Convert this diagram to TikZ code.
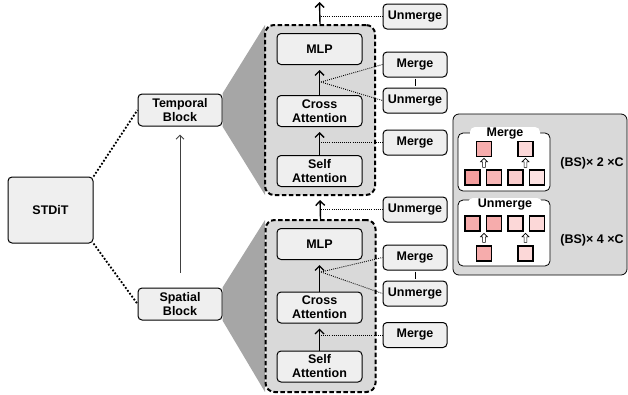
\documentclass[tikz,border=0pt]{standalone}
\usepackage{fontspec}
\setmainfont{Liberation Sans}
\usetikzlibrary{arrows.meta, positioning, shapes.arrows}

\definecolor{blockfill}{HTML}{EFEFEF}
\definecolor{boxfill}{HTML}{D9D9D9}
\definecolor{fangray}{HTML}{A6A6A6}
\definecolor{pinkA}{RGB}{244,158,158}
\definecolor{pinkB}{RGB}{247,182,182}
\definecolor{pinkC}{RGB}{250,205,205}
\definecolor{pinkD}{RGB}{253,226,226}
\definecolor{pinkAB}{RGB}{246,172,172}
\definecolor{pinkCD}{RGB}{252,216,216}

\begin{document}
\begin{tikzpicture}[x=1pt, y=-1pt,
    font=\fontsize{12.5}{14}\selectfont\bfseries,
    block/.style={rectangle, draw, line width=1pt, fill=blockfill, rounded corners=4pt, align=center, minimum width=85pt, minimum height=31pt, inner sep=1pt},
    tokenop/.style={block, minimum width=64pt, minimum height=25pt},
    layerbox/.style={rectangle, draw, line width=2pt, dash pattern=on 4.5pt off 2.5pt, fill=boxfill, rounded corners=9pt, minimum width=110pt, minimum height=170pt},
    flow/.style={-{Straight Barb[length=4.5pt,width=9pt]}, line width=1.4pt},
    tap/.style={line width=0.9pt, dash pattern=on 0.9pt off 1.2pt},
    branch/.style={line width=1.8pt, dash pattern=on 1.8pt off 1.8pt},
    panel/.style={rectangle, draw, line width=0.8pt, rounded corners=5pt},
    tab/.style={fill=white, rounded corners=5pt, minimum height=14pt, inner sep=0pt},
    tok/.style={rectangle, draw, line width=1.4pt, minimum size=15pt, inner sep=0pt},
    uparrow/.style={single arrow, draw, line width=0.6pt, fill=white, shape border rotate=90, minimum height=9pt, minimum width=7pt, single arrow head extend=1.8pt, inner sep=0.8pt}]
    \useasboundingbox (0,0) rectangle (628,394);

    \node [block, minimum width=85pt, minimum height=66pt] (stdit) at (50.5,210) {STDiT};
    \node [block, minimum width=84pt, minimum height=32pt] (temporal) at (180,110) {Temporal\\Block};
    \node [block, minimum width=84pt, minimum height=32pt] (spatial) at (180,304) {Spatial\\Block};

    % zoom fans and layer boxes
    \coordinate (tboxnw) at (265,25);
    \coordinate (tboxsw) at (265,195);
    \coordinate (sboxnw) at (265,220);
    \coordinate (sboxsw) at (265,392);
    \fill [fangray] (temporal.north east) -- (tboxnw) -- (tboxsw) -- (temporal.south east) -- cycle;
    \fill [fangray] (spatial.north east) -- (sboxnw) -- (sboxsw) -- (spatial.south east) -- cycle;
    \node [layerbox] (tbox) at (320,110) {};
    \node [layerbox, minimum height=172pt] (sbox) at (320.5,306) {};

    \node [block] (tmlp) at (319.5,49) {MLP};
    \node [block] (tcross) at (319.5,111) {Cross\\Attention};
    \node [block] (tself) at (319.5,171) {Self\\Attention};
    \node [block] (smlp) at (319.5,244) {MLP};
    \node [block] (scross) at (319.5,307.5) {Cross\\Attention};
    \node [block] (sself) at (319.5,366.5) {Self\\Attention};

    \node [tokenop] (tunm1) at (415,16.5) {Unmerge};
    \node [tokenop] (tmrg1) at (415,64.5) {Merge};
    \node [tokenop] (tunm2) at (415,100.5) {Unmerge};
    \node [tokenop] (tmrg2) at (415,142.5) {Merge};
    \node [tokenop] (sunm1) at (415,209.5) {Unmerge};
    \node [tokenop] (smrg1) at (415,257.5) {Merge};
    \node [tokenop] (sunm2) at (415,293.5) {Unmerge};
    \node [tokenop] (smrg2) at (415,335) {Merge};

    \coordinate (ttop) at (319.5,2);
    \coordinate (tj1) at (321,16.5);
    \coordinate (tj2) at (321,82);
    \coordinate (tj3) at (321,142.5);
    \coordinate (sj1) at (321,209.5);
    \coordinate (sj2) at (321,272);
    \coordinate (sj3) at (321,335);

    \draw [branch] (stdit.north east) -- (temporal.west);
    \draw [branch] (stdit.south east) -- (spatial.west);
    \draw [-{Straight Barb[length=4pt,width=8pt]}, line width=1pt, black!75, shorten <=15pt, shorten >=8pt] (spatial) -- (temporal);

    \draw [flow, shorten >=5pt] (tself) -- (tcross);
    \draw [flow, shorten >=5pt] (tcross) -- (tmlp);
    \draw [flow] (tbox.north) -- (ttop);
    \draw [flow, shorten >=4pt] (sbox.north) -- (tbox.south);
    \draw [flow, shorten >=5pt] (sself) -- (scross);
    \draw [flow, shorten >=5pt] (scross) -- (smlp);

    \draw [tap] (tj1) -- (tunm1.west);
    \draw [tap] (tj2) -- (tmrg1.west);
    \draw [tap] (tj2) -- (tunm2.west);
    \draw [tap] (tj3) -- (tmrg2.west);
    \draw [tap] (sj1) -- (sunm1.west);
    \draw [tap] (sj2) -- (smrg1.west);
    \draw [tap] (sj2) -- (sunm2.west);
    \draw [tap] (sj3) -- (smrg2.west);
    \draw [line width=1pt, shorten <=1pt, shorten >=1.5pt] (tmrg1) -- (tunm2);
    \draw [line width=1pt, shorten <=1pt, shorten >=1.5pt] (smrg1) -- (sunm2);

    % legend panel
    \draw [panel, fill=boxfill, rounded corners=6pt] (453,114) rectangle (627,275);
    \draw [panel, fill=white] (458,133) rectangle (550,191);
    \draw [panel, fill=white] (458,200) rectangle (550,266);
    \node [tab, minimum width=70pt] (mergetab) at (505,134) {Merge};
    \node [tab, minimum width=74pt] (unmergetab) at (505,205) {Unmerge};

    \node [tok, fill=pinkA] (m1) at (472.5,177.5) {};
    \node [tok, fill=pinkB] (m2) at (494,177.5) {};
    \node [tok, fill=pinkC] (m3) at (515.5,177.5) {};
    \node [tok, fill=pinkD] (m4) at (537,177.5) {};
    \node [tok, fill=pinkAB] (m12) at (484,149) {};
    \node [tok, fill=pinkCD] (m34) at (525.5,149) {};
    \node [uparrow] at (484,163.5) {};
    \node [uparrow] at (525.5,163.5) {};

    \node [tok, fill=pinkAB] (u1) at (472.5,223.5) {};
    \node [tok, fill=pinkAB] (u2) at (494,223.5) {};
    \node [tok, fill=pinkCD] (u3) at (515.5,223.5) {};
    \node [tok, fill=pinkCD] (u4) at (537,223.5) {};
    \node [tok, fill=pinkAB] (u12) at (484,253.5) {};
    \node [tok, fill=pinkCD] (u34) at (525.5,253.5) {};
    \node [uparrow] at (484,238.5) {};
    \node [uparrow] at (525.5,238.5) {};

    \node (mergeshape) at (592,163) {(BS)× 2 ×C};
    \node (unmergeshape) at (592,240) {(BS)× 4 ×C};
\end{tikzpicture}
\end{document}
